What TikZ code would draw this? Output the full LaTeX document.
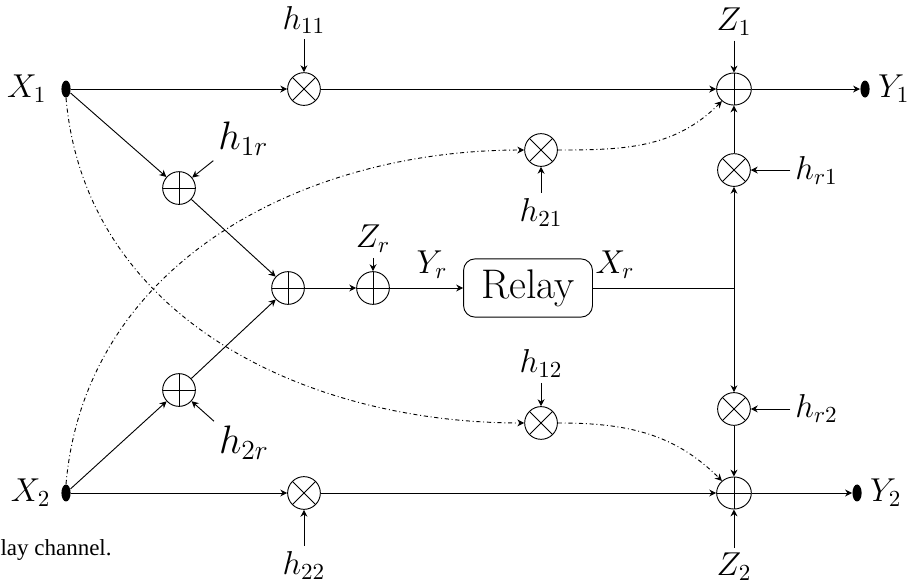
\documentclass[tikz,border=0pt]{standalone}
\usepackage{amsmath,amssymb}
\usepackage{fontspec}
\usepackage{xcolor}
\usepackage{tikz}
\usetikzlibrary{arrows.meta,positioning,shapes.geometric,calc}
\newfontfamily\capfont{Liberation Serif}
\tikzset{
  mult/.style={
    circle,
    draw,
    minimum size=0.5cm,
    inner sep=0pt,
    path picture={
      \draw (path picture bounding box.north west) -- (path picture bounding box.south east)
            (path picture bounding box.south west) -- (path picture bounding box.north east);
    }
  },
  adder/.style={
    circle,
    draw,
    minimum size=0.5cm,
    inner sep=0pt,
    path picture={
      \draw (path picture bounding box.north) -- (path picture bounding box.south)
            (path picture bounding box.west) -- (path picture bounding box.east);
    }
  },
  outadder/.style={
    adder,
    ellipse,
    minimum width=0.53cm,
    minimum height=0.49cm
  },
  terminal/.style={
    ellipse,
    fill=black,
    minimum width=0.14cm,
    minimum height=0.26cm,
    inner sep=0pt
  },
  relaybox/.style={
    rectangle,
    rounded corners=5pt,
    draw,
    minimum width=1.97cm,
    minimum height=0.89cm,
    font=\fontsize{18}{22}\selectfont
  },
  lab/.style={font=\Large, inner sep=2pt},
  biglab/.style={font=\LARGE, inner sep=2pt},
  flow/.style={-{Stealth[length=3pt,width=3pt]}},
  interf/.style={flow, dash pattern=on 1.8pt off 1.2pt on 0.4pt off 1.2pt}
}

\begin{document}
\begin{tikzpicture}
\useasboundingbox (0,0) rectangle (14,8.972);
% transmitters and receivers
\node[terminal] (x1) at (1.009,7.611) {};
\node[terminal] (x2) at (1.009,1.437) {};
\node[terminal] (y1) at (13.221,7.611) {};
\node[terminal] (y2) at (13.099,1.437) {};
\node[lab] (lx1) at (0.41,7.611) {$X_1$};
\node[lab] (lx2) at (0.47,1.437) {$X_2$};
\node[lab] (ly1) at (13.66,7.611) {$Y_1$};
\node[lab] (ly2) at (13.54,1.437) {$Y_2$};
% direct links
\node[mult] (m11) at (4.646,7.611) {};
\node[mult] (m22) at (4.646,1.437) {};
% relay branch
\node[adder] (a1r) at (2.736,6.098) {};
\node[adder] (a2r) at (2.736,3.011) {};
\node[adder] (ar) at (4.402,4.570) {};
\node[adder] (azr) at (5.701,4.570) {};
\node[relaybox] (relay) at (8.070,4.570) {Relay};
\coordinate (split) at (11.218,4.570);
\node[mult] (mr1) at (11.218,6.373) {};
\node[mult] (mr2) at (11.218,2.721) {};
% cross links
\node[mult] (m21) at (8.269,6.679) {};
\node[mult] (m12) at (8.269,2.507) {};
% output sums
\node[outadder] (s1) at (11.218,7.611) {};
\node[outadder] (s2) at (11.218,1.437) {};
% gains and noise
\node[lab] (l11) at (4.646,8.666) {$h_{11}$};
\node[lab] (l22) at (4.646,0.336) {$h_{22}$};
\node[lab] (lz1) at (11.218,8.64) {$Z_1$};
\node[lab] (lz2) at (11.218,0.306) {$Z_2$};
\node[lab] (lzr) at (5.701,5.32) {$Z_r$};
\node[lab] (l21) at (8.269,5.731) {$h_{21}$};
\node[lab] (l12) at (8.269,3.41) {$h_{12}$};
\node[lab] (lr1) at (12.48,6.373) {$h_{r1}$};
\node[lab] (lr2) at (12.48,2.721) {$h_{r2}$};
\node[biglab] (l1r) at (3.72,6.85) {$h_{1r}$};
\node[biglab] (l2r) at (3.73,2.20) {$h_{2r}$};
\node[lab] (lyr) at (6.603,4.93) {$Y_r$};
\node[lab] (lxr) at (9.40,4.93) {$X_r$};
\node[anchor=base east, font=\capfont] (cap) at (1.83,0.489) {lay channel.};

\draw[flow] (x1) -- (m11);
\draw[flow] (m11) -- (s1);
\draw[flow] (s1) -- (y1);
\draw[flow] (x2) -- (m22);
\draw[flow] (m22) -- (s2);
\draw[flow] (s2) -- (y2);
\draw[flow] (x1) -- (a1r);
\draw[flow] (x2) -- (a2r);
\draw[flow] (a1r) -- (ar);
\draw[flow] (a2r) -- (ar);
\draw[flow] (ar) -- (azr);
\draw[flow] (azr) -- (relay);
\draw (relay) -- (split);
\draw[flow] (split) -- (mr1);
\draw[flow] (mr1) -- (s1);
\draw[flow] (split) -- (mr2);
\draw[flow] (mr2) -- (s2);

\draw[flow] (l11) -- (m11);
\draw[flow] (l22) -- (m22);
\draw[flow] (lz1) -- (s1);
\draw[flow] (lz2) -- (s2);
\draw[flow] (lzr) -- (azr);
\draw[flow] (l21) -- (m21);
\draw[flow] (l12) -- (m12);
\draw[flow] (lr1) -- (mr1);
\draw[flow] (lr2) -- (mr2);
\draw[flow] (l1r.south west) -- (a1r);
\draw[flow] (l2r.north west) -- (a2r);

% interference paths
\draw[interf] (x2.north) to[out=85,in=180] (m21.west);
\draw[interf] (m21.east) to[out=0,in=225] (s1);
\draw[interf] (x1.south) to[out=-85,in=180] (m12.west);
\draw[interf] (m12.east) to[out=0,in=135] (s2);
\end{tikzpicture}
\end{document}
